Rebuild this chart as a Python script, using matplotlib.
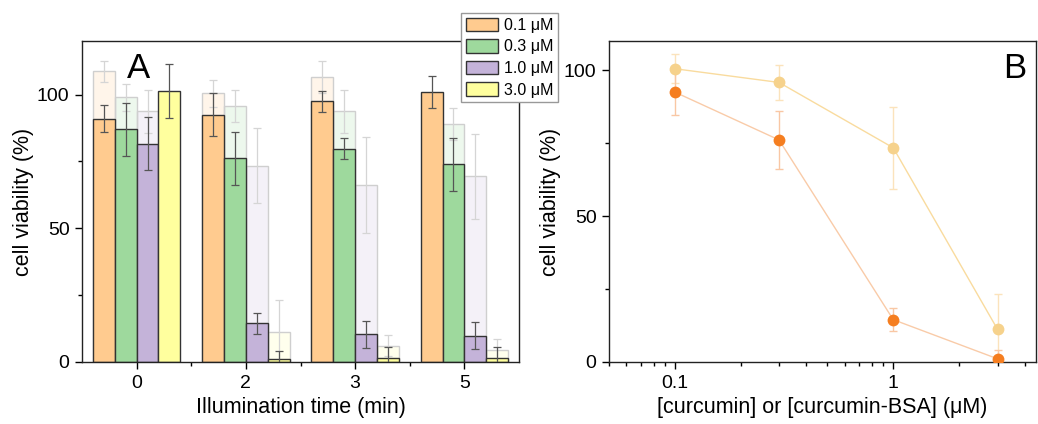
import numpy as np
import matplotlib
matplotlib.use("Agg")
import matplotlib.pyplot as plt
from matplotlib.ticker import MultipleLocator, FixedLocator, LogLocator, NullFormatter, FixedFormatter

plt.rcParams["font.family"] = ["Liberation Sans", "DejaVu Sans"]

# illumination times and curcumin concentrations
times = ["0", "2", "3", "5"]
conc_labels = ["0.1 μM", "0.3 μM", "1.0 μM", "3.0 μM"]
conc_values = [0.1, 0.3, 1.0, 3.0]

# free curcumin: viability per concentration across times
curc = [
    [90.9, 92.5, 97.4, 100.9],
    [87.0, 76.1, 79.8, 73.9],
    [81.6, 14.5, 10.4, 9.8],
    [101.4, 1.1, 1.5, 1.5],
]
curc_err = [
    [5, 8, 4, 6],
    [10, 10, 4, 10],
    [10, 4, 5, 5],
    [10, 3, 4, 4],
]

# curcumin-BSA (drawn faded behind)
bsa = [
    [108.7, 100.5, 106.6, np.nan],
    [98.9, 95.8, 93.7, 88.9],
    [93.7, 73.4, 66.1, 69.4],
    [np.nan, 11.2, 6.1, 4.5],
]
bsa_err = [
    [4, 5, 6, np.nan],
    [5, 6, 8, 6],
    [8, 14, 18, 16],
    [np.nan, 12, 4, 4],
]

bar_colors = ["#FFCB8F", "#9ED99D", "#C4B3D9", "#FFFF9E"]

W, H = 1038, 424
fig = plt.figure(figsize=(W / 100, H / 100), dpi=100)

ax = fig.add_axes([82 / W, 1 - 362 / H, (519 - 82) / W, (362 - 41) / H])
axb = fig.add_axes([609 / W, 1 - 362 / H, (1036 - 609) / W, (362 - 41) / H])

# --- panel A: grouped bars
x = np.arange(len(times))
width = 0.2
for i in range(4):
    pos = x + (i - 1.5) * width
    ax.bar(pos, bsa[i], width, color=bar_colors[i], alpha=0.18,
           edgecolor="none", zorder=1)
    ax.bar(pos, bsa[i], width, fill=False, edgecolor="#cfcfcf",
           linewidth=1.0, zorder=1.1)
    ax.errorbar(pos, bsa[i], yerr=bsa_err[i], fmt="none", ecolor="#d5d5d5",
                elinewidth=0.9, capsize=3, capthick=0.9, zorder=1.2)
    ax.bar(pos, curc[i], width, color=bar_colors[i], edgecolor="#333333",
           linewidth=1.0, label=conc_labels[i], zorder=2)
    ax.errorbar(pos, curc[i], yerr=curc_err[i], fmt="none", ecolor="#555555",
                elinewidth=0.9, capsize=3, capthick=0.9, zorder=3)

ax.set_xlim(-0.5, 3.5)
ax.set_ylim(0, 120)
ax.set_xticks(x)
ax.set_xticklabels(times)
ax.xaxis.set_minor_locator(FixedLocator([0.5, 1.5, 2.5]))
ax.yaxis.set_major_locator(FixedLocator([0, 50, 100]))
ax.yaxis.set_minor_locator(FixedLocator([25, 75]))
ax.set_xlabel("Illumination time (min)", fontsize=15.5, labelpad=4)
ax.set_ylabel("cell viability (%)", fontsize=15.5, labelpad=2)
ax.text(0.129, 0.885, "A", transform=ax.transAxes, fontsize=25,
        ha="center", va="baseline")

fig.legend(loc="upper left", bbox_to_anchor=(461 / W, 1 - 13 / H),
           bbox_transform=fig.transFigure, borderaxespad=0, fontsize=11.5,
           fancybox=False, edgecolor="#999999", framealpha=1,
           handlelength=2.0, handleheight=0.9, labelspacing=0.4,
           handletextpad=0.4, borderpad=0.3)

# --- panel B: dose response at 2 min illumination
dark = [curc[i][1] for i in range(4)]
dark_err = [curc_err[i][1] for i in range(4)]
light = [bsa[i][1] for i in range(4)]
light_err = [bsa_err[i][1] for i in range(4)]

axb.errorbar(conc_values, light, yerr=light_err, fmt="none", ecolor="#FBE3BC",
             elinewidth=1.0, capsize=3, capthick=1.0, zorder=1)
axb.plot(conc_values, light, "-", color="#F9DB9E", linewidth=1.0, zorder=2)
axb.plot(conc_values, light, "o", color="#F6D28C", markersize=8.5,
         markeredgewidth=0, zorder=3)
axb.errorbar(conc_values, dark, yerr=dark_err, fmt="none", ecolor="#F9C7A4",
             elinewidth=1.0, capsize=3, capthick=1.0, zorder=1)
axb.plot(conc_values, dark, "-", color="#F9CBA8", linewidth=1.0, zorder=2)
axb.plot(conc_values, dark, "o", color="#F57E20", markersize=8.5,
         markeredgewidth=0, zorder=3)

axb.set_xscale("log")
axb.set_xlim(0.05, 4.5)
axb.set_ylim(0, 110)
axb.xaxis.set_major_locator(FixedLocator([0.1, 1]))
axb.xaxis.set_major_formatter(FixedFormatter(["0.1", "1"]))
axb.xaxis.set_minor_locator(LogLocator(base=10, subs=np.arange(2, 10)))
axb.xaxis.set_minor_formatter(NullFormatter())
axb.yaxis.set_major_locator(FixedLocator([0, 50, 100]))
axb.yaxis.set_minor_locator(FixedLocator([25, 75]))
axb.set_xlabel("[curcumin] or [curcumin-BSA] (μM)", fontsize=15.5, labelpad=4)
axb.set_ylabel("cell viability (%)", fontsize=15.5, labelpad=2)
axb.text(0.95, 0.885, "B", transform=axb.transAxes, fontsize=25,
         ha="center", va="baseline")

for a in (ax, axb):
    a.tick_params(which="both", direction="out", labelsize=14, width=1.0,
                  top=False, right=False, pad=4)
    a.tick_params(which="major", length=5)
    a.tick_params(which="minor", length=3)
    for s in a.spines.values():
        s.set_linewidth(1.0)
        s.set_color("#222222")

fig.savefig("out.png", dpi=100)
